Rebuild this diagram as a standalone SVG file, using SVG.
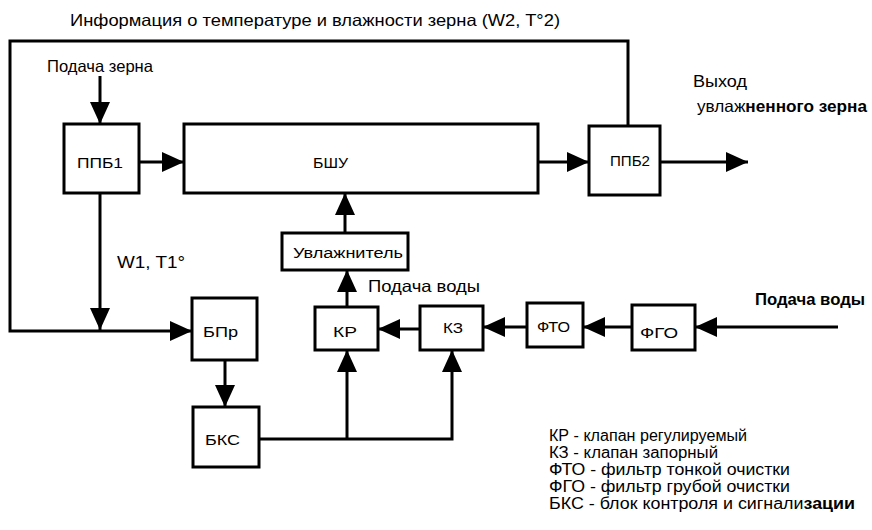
<svg xmlns="http://www.w3.org/2000/svg" width="872" height="530" viewBox="0 0 872 530">
<defs>
<marker id="ah" markerUnits="userSpaceOnUse" markerWidth="22" markerHeight="20" viewBox="0 0 22 20" refX="22" refY="10" orient="auto">
<path d="M0,0 L22,10 L0,20 z" fill="#000"/>
</marker>
<style>
text{font-family:"Liberation Sans",Arial,sans-serif;fill:#000;}
.lbl{font-size:16.5px;}
.box{fill:#fff;stroke:#000;stroke-width:3;}
.bt{font-size:14px;}
.con path{fill:none;stroke:#000;stroke-width:3;}
.arr{marker-end:url(#ah);}
.leg{font-size:16px;}
.b{font-weight:bold;}
</style>
</defs>
<rect width="872" height="530" fill="#fff"/>

<g id="connectors" class="con">
<path d="M628,126 V41 H10 V331 H192" class="arr"/>
<path d="M100,76 V124" class="arr"/>
<path d="M139,162 H184" class="arr"/>
<path d="M538,162 H589" class="arr"/>
<path d="M660,162 H748" class="arr"/>
<path d="M100,193 V330" class="arr"/>
<path d="M225,360 V407" class="arr"/>
<path d="M259,439 H452 V350" class="arr"/>
<path d="M347,439 V350" class="arr"/>
<path d="M347,307 V270" class="arr"/>
<path d="M345,233 V193" class="arr"/>
<path d="M420,329 H378" class="arr"/>
<path d="M527,327 H483" class="arr"/>
<path d="M632,327 H583" class="arr"/>
<path d="M838,327 H695" class="arr"/>
</g>

<g id="ppb1"><rect class="box" x="64" y="124" width="75" height="69"/><text class="bt" x="77" y="168" textLength="46" lengthAdjust="spacingAndGlyphs">ППБ1</text></g>
<g id="bshu"><rect class="box" x="184" y="124" width="354" height="69"/><text class="bt" x="313" y="168" textLength="35" lengthAdjust="spacingAndGlyphs">БШУ</text></g>
<g id="ppb2"><rect class="box" x="589" y="126" width="71" height="69"/><text class="bt" x="610" y="166" textLength="40" lengthAdjust="spacingAndGlyphs">ППБ2</text></g>
<g id="uvl"><rect class="box" x="282" y="233" width="126" height="37"/><text class="bt" x="293" y="258" style="font-size:15.5px" textLength="110" lengthAdjust="spacingAndGlyphs">Увлажнитель</text></g>
<g id="bpr"><rect class="box" x="192" y="298" width="65" height="62"/><text class="bt" x="203" y="337" textLength="35" lengthAdjust="spacingAndGlyphs">БПр</text></g>
<g id="kr"><rect class="box" x="315" y="307" width="63" height="43"/><text class="bt" x="333" y="337" textLength="24" lengthAdjust="spacingAndGlyphs">КР</text></g>
<g id="kz"><rect class="box" x="420" y="306" width="63" height="44"/><text class="bt" x="443" y="333" textLength="20" lengthAdjust="spacingAndGlyphs">КЗ</text></g>
<g id="fto"><rect class="box" x="527" y="303" width="56" height="44"/><text class="bt" x="537" y="332" textLength="33" lengthAdjust="spacingAndGlyphs">ФТО</text></g>
<g id="fgo"><rect class="box" x="632" y="305" width="63" height="45"/><text class="bt" x="640" y="338" textLength="38" lengthAdjust="spacingAndGlyphs">ФГО</text></g>
<g id="bks"><rect class="box" x="193" y="407" width="66" height="60"/><text class="bt" x="205" y="445" textLength="35" lengthAdjust="spacingAndGlyphs">БКС</text></g>

<g id="labels">
<text class="lbl" x="70" y="26" textLength="490" lengthAdjust="spacingAndGlyphs">Информация о температуре и влажности зерна (W2, T°2)</text>
<text class="lbl" x="47" y="72" textLength="106" lengthAdjust="spacingAndGlyphs">Подача зерна</text>
<text class="lbl" x="693" y="87" textLength="54" lengthAdjust="spacingAndGlyphs">Выход</text>
<text class="lbl" x="697" y="112" textLength="170" lengthAdjust="spacingAndGlyphs">увлаж<tspan class="b">ненного зерна</tspan></text>
<text class="lbl" x="117" y="268" textLength="68" lengthAdjust="spacingAndGlyphs">W1, T1°</text>
<text class="lbl" x="368" y="292" textLength="112" lengthAdjust="spacingAndGlyphs">Подача воды</text>
<text class="lbl b" x="755" y="305" textLength="110" lengthAdjust="spacingAndGlyphs">Подача воды</text>
</g>

<g id="legend">
<text class="leg" x="549" y="441" textLength="198" lengthAdjust="spacingAndGlyphs">КР - клапан регулируемый</text>
<text class="leg" x="549" y="458" textLength="169" lengthAdjust="spacingAndGlyphs">КЗ - клапан запорный</text>
<text class="leg" x="549" y="475" textLength="241" lengthAdjust="spacingAndGlyphs">ФТО - фильтр тонкой очистки</text>
<text class="leg" x="549" y="492" textLength="241" lengthAdjust="spacingAndGlyphs">ФГО - фильтр грубой очистки</text>
<text class="leg" x="549" y="509" textLength="306" lengthAdjust="spacingAndGlyphs">БКС - блок контроля и сигнали<tspan class="b">зации</tspan></text>
</g>
</svg>
